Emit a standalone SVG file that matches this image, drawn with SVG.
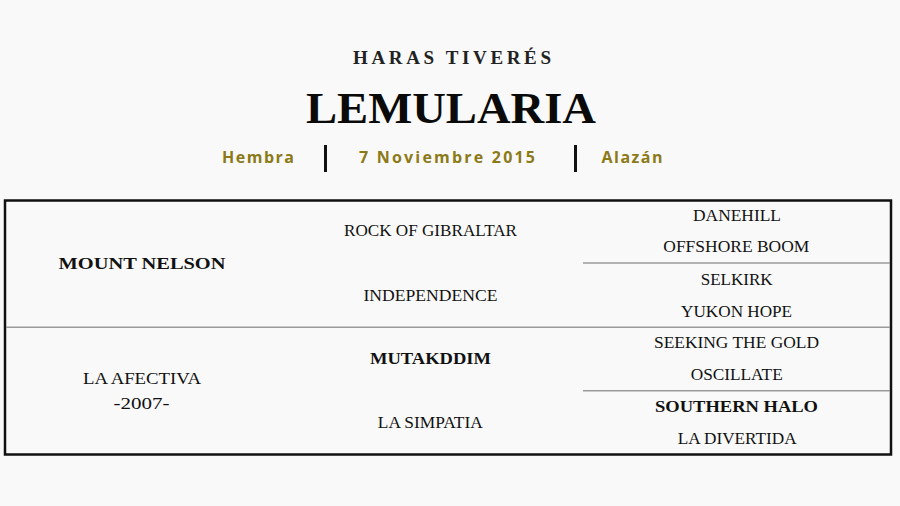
<svg xmlns="http://www.w3.org/2000/svg" width="900" height="506" viewBox="0 0 900 506">
<style>
.bg{fill:#f9f9f9}
.s{font-family:"Liberation Serif","Times New Roman",serif;font-size:17px;fill:#111;text-anchor:middle}
.b{font-weight:bold}
.h{font-family:"Open Sans","Liberation Sans",sans-serif;font-weight:bold;font-size:16px;fill:#8c7a18;text-anchor:middle;letter-spacing:2px}
.grid{stroke:#9a9a9a;stroke-width:1.5;fill:none}
</style>
<rect class="bg" x="0" y="0" width="900" height="506"/>
<g id="header">
<text x="452" y="64" font-family="Liberation Serif, serif" font-weight="bold" font-size="19" fill="#222" text-anchor="middle" textLength="198" lengthAdjust="spacing">HARAS TIVERÉS</text>
<text x="451" y="123" font-family="Liberation Serif, serif" font-weight="bold" font-size="44" fill="#0a0a0a" text-anchor="middle" textLength="290" lengthAdjust="spacingAndGlyphs">LEMULARIA</text>
<text class="h" x="259" y="163" textLength="74" lengthAdjust="spacing">Hembra</text>
<text class="h" x="448" y="163" textLength="178" lengthAdjust="spacing">7 Noviembre 2015</text>
<text class="h" x="633" y="163" textLength="63" lengthAdjust="spacing">Alazán</text>
<rect x="324" y="145" width="3" height="27" fill="#111"/>
<rect x="574" y="145" width="3" height="27" fill="#111"/>
</g>
<g id="table-lines">
<rect x="5" y="200.5" width="886" height="254" fill="none" stroke="#111" stroke-width="2.5"/>
<line class="grid" x1="6" y1="327.3" x2="890" y2="327.3"/>
<line class="grid" x1="583" y1="263" x2="890" y2="263"/>
<line class="grid" x1="583" y1="390.7" x2="890" y2="390.7"/>
</g>
<g id="sire"><text class="s b" x="142" y="269" textLength="167" lengthAdjust="spacingAndGlyphs">MOUNT NELSON</text></g>
<g id="dam"><text class="s" x="142" y="384" textLength="118" lengthAdjust="spacingAndGlyphs">LA AFECTIVA</text><text class="s" x="141.5" y="409" textLength="56" lengthAdjust="spacingAndGlyphs">-2007-</text></g>
<g id="ss"><text class="s" x="430.5" y="236" textLength="173" lengthAdjust="spacingAndGlyphs">ROCK OF GIBRALTAR</text></g>
<g id="sd"><text class="s" x="430.5" y="301" textLength="134" lengthAdjust="spacingAndGlyphs">INDEPENDENCE</text></g>
<g id="ds"><text class="s b" x="430.5" y="364" textLength="121" lengthAdjust="spacingAndGlyphs">MUTAKDDIM</text></g>
<g id="dd"><text class="s" x="430.3" y="428" textLength="105" lengthAdjust="spacingAndGlyphs">LA SIMPATIA</text></g>
<g id="sss"><text class="s" x="737" y="221" textLength="88" lengthAdjust="spacingAndGlyphs">DANEHILL</text></g>
<g id="ssd"><text class="s" x="736.3" y="252" textLength="146" lengthAdjust="spacingAndGlyphs">OFFSHORE BOOM</text></g>
<g id="sds"><text class="s" x="736.7" y="285" textLength="72" lengthAdjust="spacingAndGlyphs">SELKIRK</text></g>
<g id="sdd"><text class="s" x="736.6" y="317" textLength="111" lengthAdjust="spacingAndGlyphs">YUKON HOPE</text></g>
<g id="dss"><text class="s" x="736.5" y="348" textLength="165" lengthAdjust="spacingAndGlyphs">SEEKING THE GOLD</text></g>
<g id="dsd"><text class="s" x="736.7" y="380" textLength="92" lengthAdjust="spacingAndGlyphs">OSCILLATE</text></g>
<g id="dds"><text class="s b" x="736.5" y="412" textLength="163" lengthAdjust="spacingAndGlyphs">SOUTHERN HALO</text></g>
<g id="ddd"><text class="s" x="737.2" y="444" textLength="119" lengthAdjust="spacingAndGlyphs">LA DIVERTIDA</text></g>
</svg>
